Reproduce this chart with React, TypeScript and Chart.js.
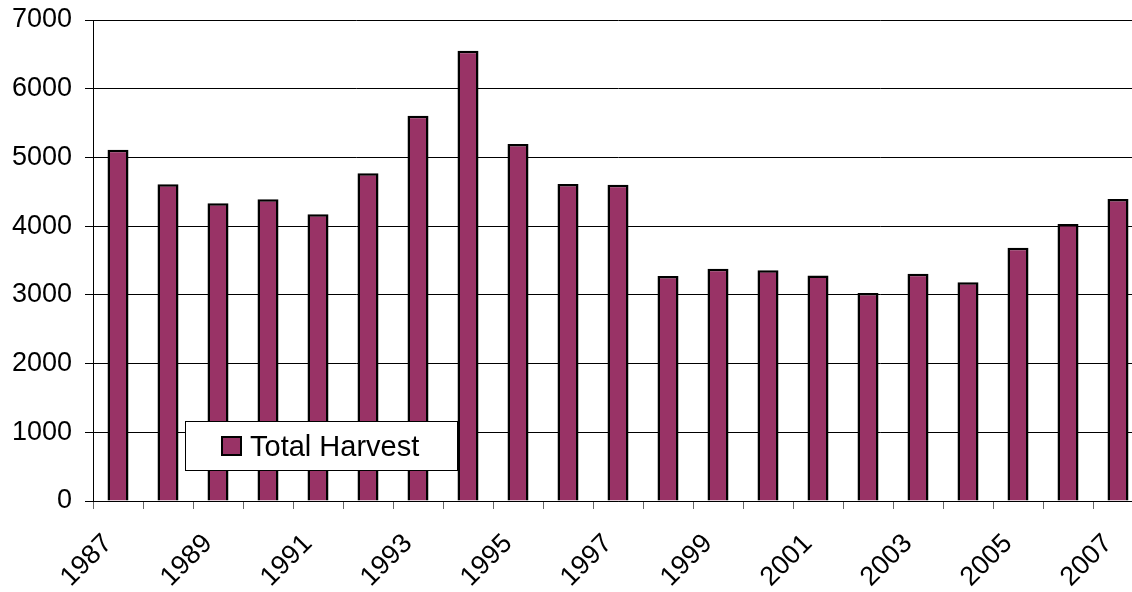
import React, { useEffect, useRef } from "react";
import { Chart, registerables } from "chart.js";

Chart.register(...registerables);

const years: string[] = [
  "1987", "1988", "1989", "1990", "1991", "1992", "1993", "1994", "1995", "1996", "1997",
  "1998", "1999", "2000", "2001", "2002", "2003", "2004", "2005", "2006", "2007",
];
const totalHarvest: number[] = [
  5110, 4610, 4333, 4391, 4173, 4769, 5608, 6554, 5196, 4614, 4604,
  3275, 3381, 3357, 3280, 3027, 3308, 3183, 3687, 4031, 4395,
];
const seriesLabel = "Total Harvest";
const yTicks: number[] = [0, 1000, 2000, 3000, 4000, 5000, 6000, 7000];

const FONT = "'Liberation Sans', Arial, sans-serif";
const BAR_COLOR = "#993366";

const boxLegend = {
  id: "boxLegend",
  afterDraw(chart: any) {
    const ctx = chart.ctx;
    const ds = chart.data.datasets[0];
    const x = 185, y = 421, w = 272, h = 49;
    ctx.save();
    ctx.fillStyle = "#ffffff";
    ctx.fillRect(x, y, w, h);
    ctx.strokeStyle = "#000000";
    ctx.lineWidth = 1;
    ctx.strokeRect(x + 0.5, y + 0.5, w, h);
    ctx.fillStyle = ds.backgroundColor;
    ctx.fillRect(222, 437, 19, 18);
    ctx.lineWidth = 2;
    ctx.strokeRect(222, 437, 19, 18);
    ctx.fillStyle = "#000000";
    ctx.font = `29px ${FONT}`;
    ctx.textBaseline = "alphabetic";
    ctx.textAlign = "left";
    ctx.fillText(ds.label, 250, 456);
    ctx.restore();
  },
};

export default function App() {
  const ref = useRef<HTMLCanvasElement | null>(null);
  useEffect(() => {
    if (!ref.current) return;
    const chart = new Chart(ref.current, {
      type: "bar",
      data: {
        labels: years,
        datasets: [
          {
            label: seriesLabel,
            data: totalHarvest,
            backgroundColor: BAR_COLOR,
            borderColor: "#000000",
            borderWidth: 2.5,
            barPercentage: 0.42,
            categoryPercentage: 1,
          },
        ],
      },
      options: {
        animation: false,
        responsive: true,
        maintainAspectRatio: false,
        layout: { padding: { top: 20, right: 17, left: 0, bottom: 0 } },
        plugins: { legend: { display: false }, tooltip: { enabled: false } },
        scales: {
          x: {
            offset: true,
            grid: {
              offset: true,
              drawOnChartArea: false,
              drawTicks: true,
              tickLength: 8,
              tickColor: "#666666",
            },
            border: { color: "#000000", width: 1 },
            ticks: {
              autoSkip: false,
              maxRotation: 45,
              minRotation: 45,
              color: "#000000",
              font: { family: FONT, size: 27 },
              padding: 19,
              labelOffset: -10,
              callback: (_v: any, i: number) => (i % 2 === 0 ? years[i] : ""),
            },
            afterFit: (s: any) => {
              s.height = 91;
              s.paddingLeft = 0;
              s.paddingRight = 0;
              s.paddingTop = 0;
              s.paddingBottom = 0;
            },
          },
          y: {
            min: 0,
            max: 7000,
            afterBuildTicks: (s: any) => {
              s.ticks = yTicks.map((v) => ({ value: v }));
            },
            grid: {
              color: "#000000",
              lineWidth: 1,
              tickLength: 8,
              tickColor: "#000000",
            },
            border: { color: "#000000", width: 1 },
            ticks: {
              color: "#000000",
              font: { family: FONT, size: 27 },
              padding: 13,
              callback: (v: any) => String(v),
            },
            afterFit: (s: any) => {
              s.width = 93;
              s.paddingLeft = 0;
              s.paddingRight = 0;
              s.paddingTop = 0;
              s.paddingBottom = 0;
            },
          },
        },
      },
      plugins: [boxLegend],
    });
    return () => chart.destroy();
  }, []);

  return (
    <div
      style={{
        position: "absolute",
        left: 0,
        top: 0,
        width: 1132,
        height: 592,
        overflow: "hidden",
        background: "#ffffff",
      }}
    >
      <div style={{ position: "relative", width: 1160, height: 592 }}>
        <canvas ref={ref} />
      </div>
    </div>
  );
}
